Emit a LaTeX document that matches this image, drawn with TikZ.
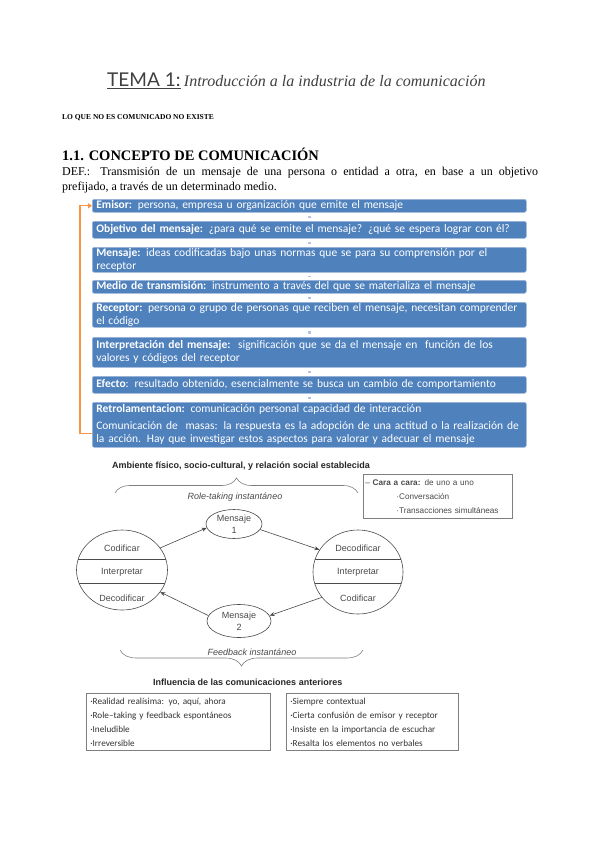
\documentclass[tikz,border=0pt]{standalone}
\usepackage{fontspec}
\setmainfont{Liberation Serif}
\newfontfamily\calib{Carlito}
\newfontfamily\arialf{Liberation Sans}
\newfontfamily\latof{Lato}
\usetikzlibrary{shapes.geometric,decorations.pathreplacing,arrows.meta}
\definecolor{boxblue}{HTML}{4F81BD}
\definecolor{boxedge}{HTML}{9DB5DA}
\definecolor{conn}{HTML}{B4C4E0}
\definecolor{orng}{HTML}{F79646}
\definecolor{dgray}{HTML}{4A4A4A}
\definecolor{lgray}{HTML}{7F7F7F}
\begin{document}
\begin{tikzpicture}[x=1pt,y=-1pt,
 txt/.style={inner sep=0pt, anchor=base west},
 bluebox/.style={draw=boxedge, line width=0.6pt, fill=boxblue, rounded corners=2pt, anchor=north west, text=white, font=\calib\fontsize{11.5}{13}\selectfont, align=left, text width=426pt, inner xsep=4pt, inner ysep=0pt},
 link/.style={draw=conn, line width=2.6pt, shorten >=3pt, shorten <=3pt},
 feed/.style={draw=orng, line width=1.3pt, -{Triangle[length=4pt,width=5pt]}},
 ctext/.style={font=\arialf\fontsize{9}{10}\selectfont, text=dgray, inner sep=0pt},
 ring/.style={ellipse, draw=dgray, line width=0.6pt, inner sep=0pt},
 msg/.style={ellipse, draw=dgray, line width=0.6pt, inner sep=0pt, align=center, font=\arialf\fontsize{9}{11.5}\selectfont, text=dgray},
 flow/.style={draw=dgray, line width=0.6pt, -{Stealth[length=5pt,width=4pt]}},
 brc/.style={draw=lgray, line width=0.6pt, decorate, decoration={brace, amplitude=#1}},
 listbox/.style={draw=lgray, line width=0.7pt, anchor=north west, align=left, inner xsep=4pt, inner ysep=0pt},
]
\useasboundingbox[fill=white] (0,0) rectangle (600,848);

% ---- header ----
\node[txt, font=\latof\fontsize{19}{22}\selectfont, text=black!75] (tema) at (107,87) {\underline{TEMA 1:}};
\node[txt, font=\itshape\fontsize{16}{19}\selectfont, text=black!75] (intro) at ([xshift=3pt]tema.base east) {Introducción a la industria de la comunicación};
\node[txt, font=\bfseries\fontsize{7.5}{9}\selectfont] (loque) at (62,120) {LO QUE NO ES COMUNICADO NO EXISTE};
\node[txt, font=\bfseries\fontsize{14.5}{17}\selectfont] (head) at (62,160) {1.1. CONCEPTO DE COMUNICACIÓN};
\node[txt, font=\fontsize{12}{17}\selectfont] (def1) at (62,175) {\makebox[476pt][s]{DEF.: Transmisión de un mensaje de una persona o entidad a otra, en base a un objetivo}};
\node[txt, font=\fontsize{12}{17}\selectfont] (def2) at (62,190) {prefijado, a través de un determinado medio.};

% ---- blue boxes ----
\node[bluebox, minimum height=13pt] (b1) at (92,199) {\textbf{Emisor:} persona, empresa u organización que emite el mensaje};
\node[bluebox, minimum height=17pt] (b2) at (92,221) {\textbf{Objetivo del mensaje:} ¿para qué se emite el mensaje? ¿qué se espera lograr con él?};
\node[bluebox, minimum height=25pt] (b3) at (92,247) {\textbf{Mensaje:} ideas codificadas bajo unas normas que se para su comprensión por el\\receptor};
\node[bluebox, minimum height=13pt] (b4) at (92,280) {\textbf{Medio de transmisión:} instrumento a través del que se materializa el mensaje};
\node[bluebox, minimum height=25pt] (b5) at (92,302) {\textbf{Receptor:} persona o grupo de personas que reciben el mensaje, necesitan comprender\\el código};
\node[bluebox, minimum height=30pt] (b6) at (92,337) {\textbf{Interpretación del mensaje:}\ \ significación que se da el mensaje en\ \ función de los\\valores y códigos del receptor};
\node[bluebox, minimum height=17pt] (b7) at (92,376) {\textbf{Efecto}: resultado obtenido, esencialmente se busca un cambio de comportamiento};
\node[bluebox, minimum height=45pt] (b8) at (92,402) {\textbf{Retrolamentacion:} comunicación personal capacidad de interacción\\[4pt]Comunicación de\ \ masas: la respuesta es la adopción de una actitud o la realización de\\la acción. Hay que investigar estos aspectos para valorar y adecuar el mensaje};

\draw[link] (b1) -- (b2);
\draw[link] (b2) -- (b3);
\draw[link] (b3) -- (b4);
\draw[link] (b4) -- (b5);
\draw[link] (b5) -- (b6);
\draw[link] (b6) -- (b7);
\draw[link] (b7) -- (b8);
\draw[feed] ([yshift=-8.5pt]b8.west) -- ++(-12,0) |- (b1.west);

% ---- lower diagram ----
\node[txt, font=\arialf\bfseries\fontsize{9}{10}\selectfont, text=black!85] (amb) at (112,468) {Ambiente físico, socio-cultural, y relación social establecida};
\draw[brc=15pt] (115,493) -- (358,493);
\node[anchor=base, inner sep=0pt, font=\arialf\itshape\fontsize{9}{10}\selectfont, text=dgray] (role) at (235,499) {Role-taking instantáneo};

\node[listbox, text width=145pt, inner xsep=2pt, minimum height=44pt, font=\arialf\fontsize{8.2}{14}\selectfont, text=dgray] (cara) at (363,474) {– \textbf{Cara a cara:} de uno a uno\\\hspace*{31pt}·Conversación\\\hspace*{31pt}·Transacciones simultáneas};

\node[msg, minimum width=56pt, minimum height=29pt] (m1) at (234,524) {Mensaje\\1};
\node[msg, minimum width=64pt, minimum height=33pt] (m2) at (239,621) {Mensaje\\2};

\node[ring, minimum width=91pt, minimum height=80pt] (lc) at (122,570) {};
\begin{scope}
\clip (122,570) ellipse [x radius=45.5, y radius=40];
\draw[dgray, line width=0.6pt] (70,559) -- (175,559) (70,583) -- (175,583);
\end{scope}
\node[ctext] (lc1) at (122,548) {Codificar};
\node[ctext] (lc2) at (122,572) {Interpretar};
\node[ctext] (lc3) at (122,598) {Decodificar};

\node[ring, minimum width=90pt, minimum height=84pt] (rc) at (358,572) {};
\begin{scope}
\clip (358,572) ellipse [x radius=45, y radius=42];
\draw[dgray, line width=0.6pt] (305,559) -- (410,559) (305,583) -- (410,583);
\end{scope}
\node[ctext] (rc1) at (358,548) {Decodificar};
\node[ctext] (rc2) at (358,572) {Interpretar};
\node[ctext] (rc3) at (358,598) {Codificar};

\draw[flow] (lc.30) -- (m1.188);
\draw[flow] (m1.-12) -- (rc.150);
\draw[flow] (rc.215) -- (m2.10);
\draw[flow] (m2.170) -- (lc.-30);

\node[anchor=base, inner sep=0pt, font=\arialf\itshape\fontsize{9}{10}\selectfont, text=dgray] (fb) at (252,655) {Feedback instantáneo};
\draw[brc=16pt] (363,650) -- (120,650);
\node[txt, font=\arialf\bfseries\fontsize{9}{10}\selectfont, text=black!85] (infl) at (153,685) {Influencia de las comunicaciones anteriores};

\node[listbox, text width=176pt, minimum height=57pt, font=\calib\fontsize{9.2}{14}\selectfont, text=black!80] (lb) at (86,693) {·Realidad realísima: yo, aquí, ahora\\·Role–taking y feedback espontáneos\\·Ineludible\\·Irreversible};
\node[listbox, text width=164pt, minimum height=57pt, font=\calib\fontsize{9.2}{14}\selectfont, text=black!80] (rb) at (286,693) {·Siempre contextual\\·Cierta confusión de emisor y receptor\\·Insiste en la importancia de escuchar\\·Resalta los elementos no verbales};
\end{tikzpicture}
\end{document}
